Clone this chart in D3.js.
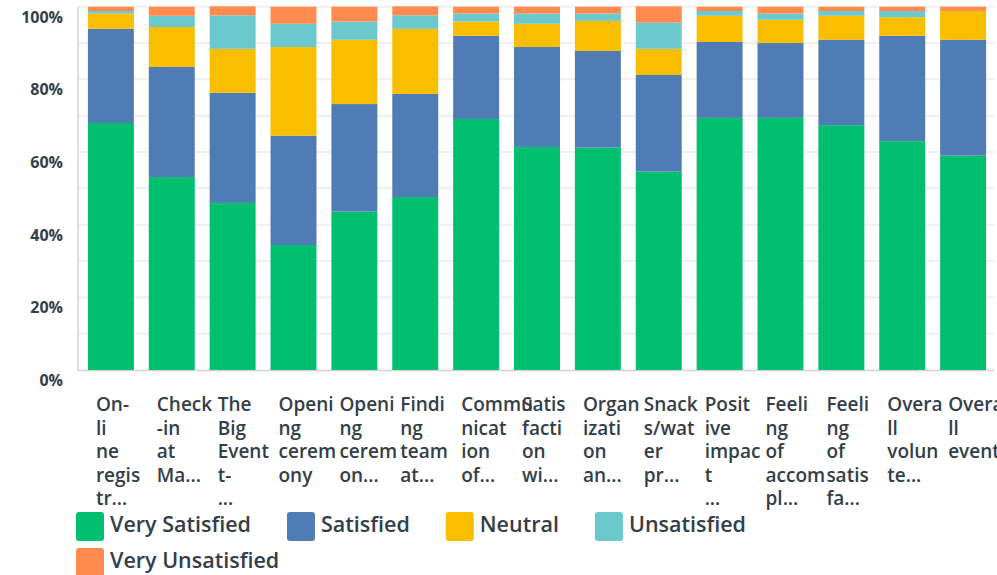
<!DOCTYPE html>
<html>
<head>
<meta charset="utf-8">
<script src="https://cdn.jsdelivr.net/npm/d3@7"></script>
<style>
  body { margin: 0; background: #fff; }
  svg { display: block; font-family: "Open Sans", sans-serif; }
</style>
</head>
<body>
<script>
// answer options, bottom to top in each bar
const keys = ["Very Satisfied", "Satisfied", "Neutral", "Unsatisfied", "Very Unsatisfied"];
const colors = ["#00bf6f", "#507cb6", "#f9be00", "#6bc8cd", "#ff8b4f"];

// the tick labels, already broken into lines the way the survey tool wraps them
const tickLines = [
  ["On-", "li", "ne", "regis", "tr..."],
  ["Check", "-in", "at", "Ma..."],
  ["The", "Big", "Event", "t-", "..."],
  ["Openi", "ng", "cerem", "ony"],
  ["Openi", "ng", "cerem", "on..."],
  ["Findi", "ng", "team", "at..."],
  ["Commu", "nicat", "ion", "of..."],
  ["Satis", "facti", "on", "wi..."],
  ["Organ", "izati", "on", "an..."],
  ["Snack", "s/wat", "er", "pr..."],
  ["Posit", "ive", "impac", "t", "..."],
  ["Feeli", "ng", "of", "accom", "pl..."],
  ["Feeli", "ng", "of", "satis", "fa..."],
  ["Overa", "ll", "volun", "te..."],
  ["Overa", "ll", "event"]
];

// percentages per question
const verySatisfied   = [68.0, 53.1, 46.0, 34.4, 43.6, 47.6, 69.1, 61.4, 61.2, 54.6, 69.4, 69.4, 67.4, 63.0, 59.0];
const satisfied       = [25.9, 30.3, 30.3, 30.1, 29.6, 28.4, 22.9, 27.5, 26.6, 26.6, 20.9, 20.6, 23.5, 29.0, 31.9];
const neutral         = [ 4.2, 11.0, 12.1, 24.4, 17.7, 17.9,  3.9,  6.4,  8.3,  7.2,  7.2,  6.4,  6.6,  5.1,  7.9];
const unsatisfied     = [ 0.7,  3.1,  9.2,  6.4,  5.0,  3.7,  2.2,  2.8,  2.0,  7.2,  1.3,  1.7,  1.3,  1.7,  0.0];
const veryUnsatisfied = [ 1.2,  2.5,  2.5,  4.7,  4.1,  2.5,  1.9,  1.9,  1.9,  4.5,  1.2,  1.9,  1.2,  1.2,  1.2];

const yTicks = [0, 20, 40, 60, 80, 100];

const width = 997, height = 575;
const textColor = "#333e48";

const rows = tickLines.map((lines, i) => ({
  id: i,
  "Very Satisfied": verySatisfied[i],
  "Satisfied": satisfied[i],
  "Neutral": neutral[i],
  "Unsatisfied": unsatisfied[i],
  "Very Unsatisfied": veryUnsatisfied[i]
}));

const svg = d3.select("body").append("svg")
  .attr("width", width)
  .attr("height", height);

const x = d3.scaleBand()
  .domain(rows.map(d => d.id))
  .range([80, 994])
  .paddingInner(0.245)
  .paddingOuter(0.13);

const y = d3.scaleLinear()
  .domain([0, 100])
  .range([370, 6.7]);

// light gridlines every 10%
svg.append("g")
  .selectAll("line")
  .data(d3.range(10, 101, 10))
  .enter().append("line")
  .attr("x1", 78).attr("x2", 994)
  .attr("y1", d => y(d)).attr("y2", d => y(d))
  .attr("stroke", "#efefef")
  .attr("stroke-width", 2);

// axis lines
svg.append("line")
  .attr("x1", 78).attr("x2", 78)
  .attr("y1", y(100)).attr("y2", y(0) + 1)
  .attr("stroke", "#d4d4d4").attr("stroke-width", 1.5);
svg.append("line")
  .attr("x1", 78).attr("x2", 994)
  .attr("y1", y(0) + 0.5).attr("y2", y(0) + 0.5)
  .attr("stroke", "#d4d4d4").attr("stroke-width", 1.5);

// y tick labels sit just below their gridline
svg.append("g")
  .selectAll("text")
  .data(yTicks)
  .enter().append("text")
  .attr("x", 63)
  .attr("y", d => y(d) + 16)
  .attr("text-anchor", "end")
  .attr("fill", textColor)
  .attr("font-size", 16)
  .attr("font-weight", 700)
  .text(d => d + "%");

const stacked = d3.stack().keys(keys)(rows);

svg.append("g")
  .selectAll("g")
  .data(stacked)
  .enter().append("g")
  .attr("fill", (d, i) => colors[i])
  .selectAll("rect")
  .data(d => d)
  .enter().append("rect")
  .attr("x", d => x(d.data.id))
  .attr("y", d => y(d[1]))
  .attr("width", x.bandwidth())
  .attr("height", d => Math.max(0, y(d[0]) - y(d[1])));

// category labels, left aligned under each bar
const labels = svg.append("g")
  .selectAll("text")
  .data(rows)
  .enter().append("text")
  .attr("x", d => x(d.id) + 8)
  .attr("y", 411)
  .attr("fill", textColor)
  .attr("font-size", 19)
  .attr("font-weight", 600);

labels.selectAll("tspan")
  .data(d => tickLines[d.id])
  .enter().append("tspan")
  .attr("x", function() { return this.parentNode.getAttribute("x"); })
  .attr("dy", (d, i) => i === 0 ? 0 : 23.5)
  .text(d => d);

// legend, wrapping onto a second row
const legend = svg.append("g");
let lx = 76, ly = 512;
keys.forEach((k, i) => {
  const item = legend.append("g");
  item.append("rect")
    .attr("width", 28).attr("height", 29)
    .attr("rx", 3)
    .attr("fill", colors[i]);
  const t = item.append("text")
    .attr("x", 34)
    .attr("y", 12.5)
    .attr("dy", "0.35em")
    .attr("fill", textColor)
    .attr("font-size", 21.5)
    .attr("font-weight", 600)
    .text(k);
  const w = 34 + t.node().getComputedTextLength();
  if (lx + w > 900) { lx = 76; ly += 36; }
  item.attr("transform", `translate(${lx},${ly})`);
  lx += w + 36;
});
</script>
</body>
</html>
